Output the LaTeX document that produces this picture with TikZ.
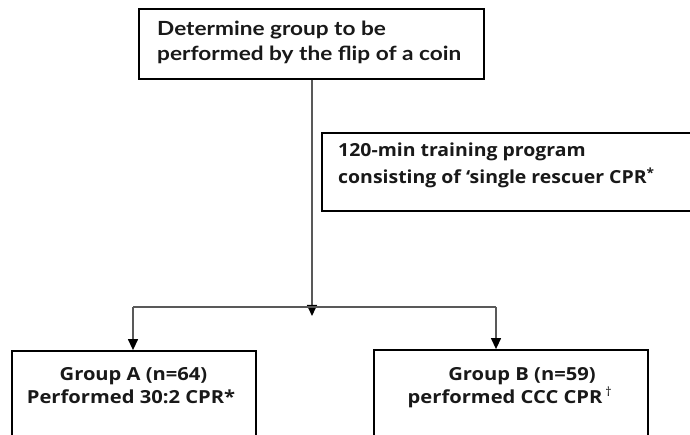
\documentclass[tikz,border=0pt]{standalone}
\usepackage{fontspec}
\setmainfont{Open Sans}
\newfontfamily\topfont[FakeStretch=1.16]{Lato}
\newfontfamily\midfont[FakeStretch=1.08]{Open Sans}
\newfontfamily\grpfont[FakeStretch=1.12]{Open Sans}
\usetikzlibrary{arrows.meta}
\tikzset{
  box/.style={draw=black, line width=1.8pt, fill=white, rectangle},
  conn/.style={draw=black!65, line width=1.3pt},
  arr/.style={conn, -{Triangle[width=10pt,length=11pt,fill=black,color=black]}},
  toptxt/.style={font=\topfont\bfseries\fontsize{19.5}{25}\selectfont, text=black!90, inner sep=0pt, anchor=base west},
  midtxt/.style={font=\midfont\bfseries\fontsize{18}{26}\selectfont, text=black!90, inner sep=0pt, anchor=base west},
  grptxt/.style={font=\grpfont\bfseries\fontsize{18}{23}\selectfont, text=black!90, inner sep=0pt, anchor=base},
}
\begin{document}
\begin{tikzpicture}[x=1pt,y=-1pt]
\useasboundingbox (0,0) rectangle (690,435);
\clip (0,0) rectangle (690,435);
% boxes
\node[box, minimum width=345pt, minimum height=70pt] (top) at (311.5,44) {};
\node[box, minimum width=398pt, minimum height=78pt] (mid) at (521,172) {};
\node[box, minimum width=244pt, minimum height=120pt] (ga) at (134,411) {};
\node[box, minimum width=274pt, minimum height=120pt] (gb) at (511,410) {};
% texts
\node[toptxt] (top1) at (157,36) {Determine group to be};
\node[toptxt] (top2) at (157,61) {performed by the flip of a coin};
\node[midtxt] (mid1) at (338,157) {120-min training program};
\node[midtxt] (mid2) at (338,184) {consisting of ‘single rescuer CPR\textsuperscript{*}};
\node[grptxt] (ga1) at (133.5,380) {Group A (n=64)};
\node[grptxt] (ga2) at (131,403) {Performed 30:2 CPR*};
\node[grptxt] (gb1) at (522,380) {Group B (n=59)};
\node[grptxt] (gb2) at (510,403) {performed CCC CPR\,\textsuperscript{\normalfont\dag}};
% connectors
\coordinate (c) at (312,307);
\coordinate (cl) at (133,307);
\coordinate (cr) at (496,307);
\draw[arr] (top.south -| c) -- ([yshift=-9pt]c);
\draw[conn] (cl) -- (cr);
\draw[arr] (cl) -- (cl |- ga.north);
\draw[arr] (cr) -- (cr |- gb.north);
\end{tikzpicture}
\end{document}
